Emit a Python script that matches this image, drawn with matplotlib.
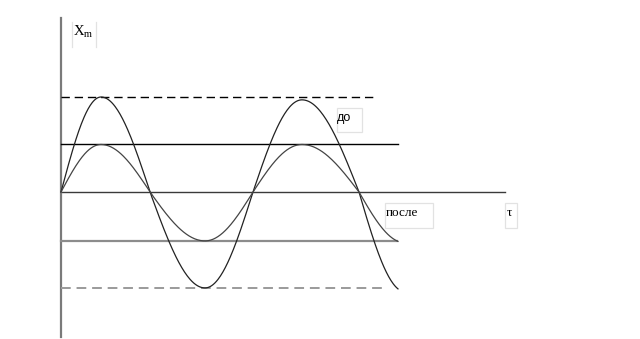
import numpy as np
import matplotlib
matplotlib.use("Agg")
import matplotlib.pyplot as plt
from matplotlib.patches import Rectangle

plt.rcParams["mathtext.fontset"] = "custom"
plt.rcParams["mathtext.rm"] = "Liberation Serif"
plt.rcParams["mathtext.it"] = "Liberation Serif:italic"

# Knots of the oscillation (time units): zero, peak, zero, trough, zero, peak, zero, (virtual trough)
knot_t = [0.0, 0.40, 0.89, 1.44, 1.92, 2.41, 2.98, 3.44]
big_amp = [0.0, 2.0, 0.0, -2.02, 0.0, 1.94, 0.0, -2.10]
small_amp = [0.0, 1.0, 0.0, -1.03, 0.0, 1.0, 0.0, -1.07]
t_end = 3.37

# Reference levels: (value, end time)
level_values = [2.0, 1.0, -1.03, -2.02]
level_ends = [3.12, 3.37, 3.36, 3.25]

labels = ["X$_{\\mathrm{m}}$", "до", "после", "τ"]


def wave(knots, amps, tend, n=60):
    ts, ys = [], []
    for i in range(len(knots) - 1):
        t0, t1 = knots[i], knots[i + 1]
        a0, a1 = amps[i], amps[i + 1]
        s = np.linspace(0, 1, n)
        tt = t0 + (t1 - t0) * s
        if a0 == 0:
            yy = a1 * np.sin(np.pi / 2 * s)
        else:
            yy = a0 * np.cos(np.pi / 2 * s)
        m = tt <= tend
        ts.append(tt[m]); ys.append(yy[m])
    return np.concatenate(ts), np.concatenate(ys)


fig = plt.figure(figsize=(6.4, 3.39), dpi=100)
ax = fig.add_axes([0, 0, 1, 1])
ax.set_xlim(-0.61, 5.79)
ax.set_ylim(-3.095, 4.042)
ax.axis("off")


def px(x, y):
    return (x - 61) / 100.0, (192 - y) / 47.5


# text boxes (light frames)
box_ec = "#e2e2e2"
for (x0, y0, x1, y1) in [(337, 108, 362, 132), (385, 203, 433, 228), (505, 203, 517, 228)]:
    a, b = px(x0, y1)
    c, d = px(x1, y0)
    ax.add_patch(Rectangle((a, b), c - a, d - b, fill=False, ec=box_ec, lw=0.9))
for xx in (72, 96):
    a, b = px(xx, 47)
    _, d = px(xx, 22)
    ax.plot([a, a], [b, d], color=box_ec, lw=0.9)

# axes lines
ax.plot([0, 4.44], [0, 0], color="#3a3a3a", lw=1.0)
ax.plot([0, 0], [-3.05, 3.66], color="#7a7a7a", lw=1.6)

# levels
ax.plot([0, level_ends[0]], [level_values[0]] * 2, color="black", lw=1.0, ls=(0, (6, 3.5)))
ax.plot([0, level_ends[1]], [level_values[1]] * 2, color="black", lw=1.0)
ax.plot([0, level_ends[2]], [level_values[2]] * 2, color="#8c8c8c", lw=1.6)
ax.plot([0, level_ends[3]], [level_values[3]] * 2, color="#9a9a9a", lw=1.4, ls=(0, (5, 3)))

tb, yb = wave(knot_t, big_amp, t_end)
ts, ys = wave(knot_t, small_amp, t_end)
ax.plot(tb, yb, color="#222222", lw=0.9)
ax.plot(ts, ys, color="#444444", lw=0.9)

ax.text(*px(73, 32), labels[0], family="Liberation Serif", fontsize=10.5,
        va="center", ha="left")
ax.text(*px(337, 118), labels[1], family="Liberation Sans", fontsize=9,
        va="center", ha="left")
ax.text(*px(386, 213), labels[2], family="Liberation Serif", fontsize=9.5,
        va="center", ha="left")
ax.text(*px(507, 213), labels[3], family="Liberation Serif", fontsize=9.5,
        va="center", ha="left")

fig.savefig("out.png", dpi=100)
